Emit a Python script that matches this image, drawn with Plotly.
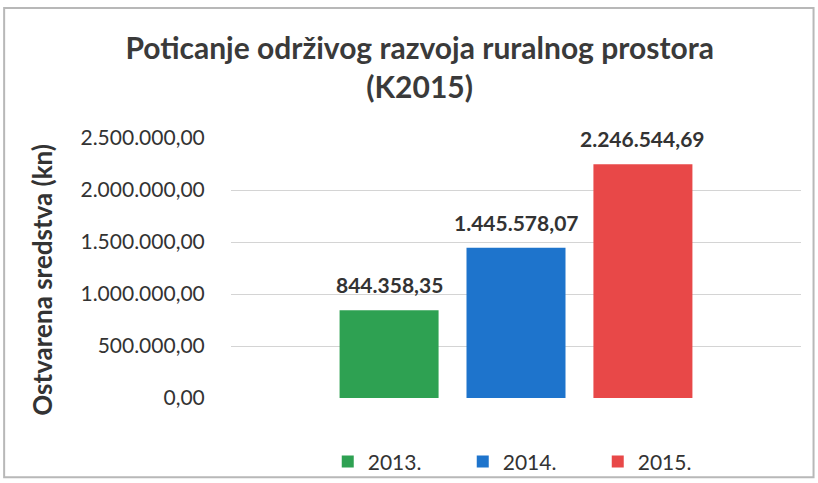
import plotly.graph_objects as go

category = "K2015"
years = ["2013.", "2014.", "2015."]
values = [844358.35, 1445578.07, 2246544.69]
colors = ["#2EA152", "#1E74CC", "#E84848"]
tick_vals = [0, 500000, 1000000, 1500000, 2000000, 2500000]

W, H = 818, 483
ML, MR, MT, MB = 231, 17, 138, 85
BARGAP, GROUPGAP = 0.332, 0.22


def hr_fmt(v):
    s = f"{v:,.2f}"
    return s.replace(",", "X").replace(".", ",").replace("X", ".")


fig = go.Figure()
for name, val, col in zip(years, values, colors):
    fig.add_trace(go.Bar(
        x=[category], y=[val], name=name,
        marker=dict(color=col, line=dict(width=0)),
        hovertemplate="%{y:,.2f}<extra>" + name + "</extra>",
    ))

# data labels above bars, shifted by the group slot width
slot_px = (W - ML - MR) * (1 - BARGAP) / len(values)
annotations = []
for i, val in enumerate(values):
    annotations.append(dict(
        text="<b>" + hr_fmt(val) + "</b>", xref="x", yref="y",
        x=category, y=val, xanchor="center", yanchor="bottom",
        xshift=(i - (len(values) - 1) / 2) * slot_px, yshift=11,
        showarrow=False,
        font=dict(family="Lato", size=21, color="#333333"),
    ))
annotations.append(dict(
    text="<b>Ostvarena sredstva (kn)</b>", textangle=-90,
    xref="paper", yref="paper", x=-0.332, y=0.454,
    xanchor="center", yanchor="middle", showarrow=False,
    font=dict(family="Lato", size=26, color="#333333"),
))

fig.update_layout(
    width=W, height=H,
    paper_bgcolor="white", plot_bgcolor="white",
    separators=",.",
    barmode="group", bargap=BARGAP, bargroupgap=GROUPGAP,
    margin=dict(l=ML, r=MR, t=MT, b=MB, autoexpand=False),
    title=dict(
        text="<b>Poticanje održivog razvoja ruralnog prostora<br>(K2015)</b>",
        x=0.513, xanchor="center", y=0.877, yanchor="top",
        font=dict(family="Lato", size=30, color="#3a3a3a"),
    ),
    font=dict(family="Lato", color="#333333"),
    xaxis=dict(type="category", showticklabels=False, showgrid=False,
               zeroline=False, showline=False),
    yaxis=dict(
        range=[0, 2500000], tickvals=tick_vals, tickformat=",.2f",
        tickfont=dict(family="Lato", size=21, color="#333333"),
        showgrid=True, gridcolor="#d4d4d4", gridwidth=1,
        zeroline=False, showline=False,
        ticks="outside", ticklen=21, tickcolor="rgba(0,0,0,0)",
    ),
    showlegend=True,
    legend=dict(
        orientation="h", x=0.525, xanchor="center", y=-0.246, yanchor="middle",
        font=dict(family="Lato", size=21, color="#333333"),
        entrywidth=90, entrywidthmode="pixels", itemwidth=30,
        bgcolor="rgba(0,0,0,0)",
    ),
    annotations=annotations,
    shapes=[dict(
        type="rect", xref="paper", yref="paper",
        x0=-0.398, x1=1.022, y0=-0.305, y1=1.5,
        line=dict(color="#b8b8b8", width=2),
    )],
)

fig.write_html("out.html", config={"displayModeBar": False},
               post_script="document.body.style.margin='0';")
